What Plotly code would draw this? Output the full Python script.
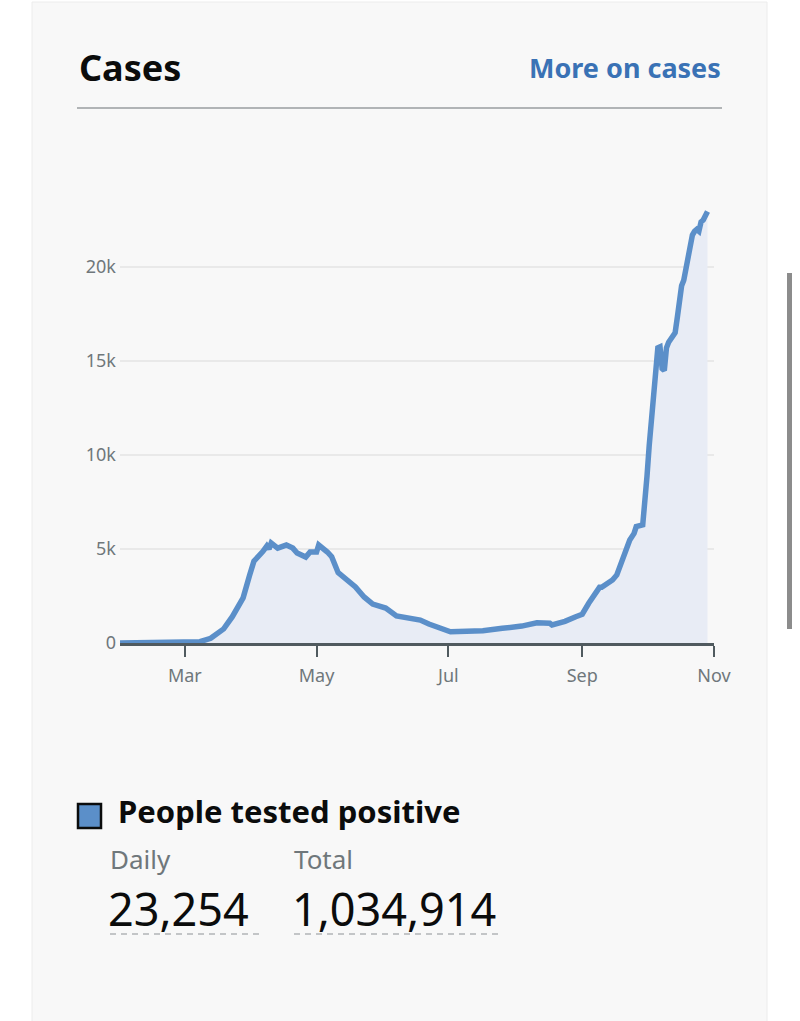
import plotly.graph_objects as go

# ---- data ----
dates = [
    "2020-01-31", "2020-02-10", "2020-02-20", "2020-03-01", "2020-03-08",
    "2020-03-13", "2020-03-19", "2020-03-23", "2020-03-28", "2020-03-31",
    "2020-04-02", "2020-04-06", "2020-04-08", "2020-04-09", "2020-04-10",
    "2020-04-13", "2020-04-17", "2020-04-20", "2020-04-22", "2020-04-26",
    "2020-04-28", "2020-05-01", "2020-05-02", "2020-05-06", "2020-05-08",
    "2020-05-11", "2020-05-15", "2020-05-19", "2020-05-23", "2020-05-27",
    "2020-06-02", "2020-06-07", "2020-06-18", "2020-06-22", "2020-07-02",
    "2020-07-17", "2020-07-26", "2020-08-04", "2020-08-11", "2020-08-17",
    "2020-08-18", "2020-08-24", "2020-08-29", "2020-09-01", "2020-09-04",
    "2020-09-09", "2020-09-10", "2020-09-15", "2020-09-17", "2020-09-19",
    "2020-09-23", "2020-09-25", "2020-09-26", "2020-09-29", "2020-09-30",
    "2020-10-01", "2020-10-02", "2020-10-03", "2020-10-04", "2020-10-05",
    "2020-10-06", "2020-10-07", "2020-10-08", "2020-10-09", "2020-10-10",
    "2020-10-11", "2020-10-12", "2020-10-13", "2020-10-14", "2020-10-15",
    "2020-10-16", "2020-10-17", "2020-10-18", "2020-10-19", "2020-10-20",
    "2020-10-21", "2020-10-22", "2020-10-23", "2020-10-24", "2020-10-25",
    "2020-10-26", "2020-10-27", "2020-10-28", "2020-10-29",
]
cases = [
    0, 5, 10, 30, 70,
    250, 750, 1400, 2400, 3600,
    4350, 4850, 5160, 5000, 5320,
    5050, 5210, 5050, 4790, 4570,
    4840, 4840, 5210, 4840, 4590,
    3740, 3350, 2980, 2450, 2070,
    1860, 1440, 1220, 1010, 600,
    650, 780, 900, 1080, 1050,
    960, 1150, 1400, 1530, 2110,
    2960, 2960, 3350, 3620, 4240,
    5480, 5830, 6190, 6280, 7300,
    8900, 10500, 12000, 13200, 14600,
    15700, 15750, 14600, 14500, 15700,
    16000, 16200, 16400, 16500, 17300,
    18300, 19000, 19300, 20000, 20700,
    21300, 21700, 21900, 22000, 21900,
    22400, 22500, 22700, 22950,
]
tick_dates = ["2020-03-01", "2020-05-01", "2020-07-01", "2020-09-01", "2020-11-01"]
tick_text = ["Mar", "May", "Jul", "Sep", "Nov"]
y_ticks = [0, 5000, 10000, 15000, 20000]
y_text = ["0", "5k", "10k", "15k", "20k"]

title = "Cases"
link = "More on cases"
metric = "People tested positive"
daily_label, daily_value = "Daily", "23,254"
total_label, total_value = "Total", "1,034,914"

# ---- layout geometry (pixels) ----
W, H = 800, 1021
L, R, T, B = 120, 714, 200, 643
PW, PH = R - L, B - T
FONT = "Noto Sans"
LINE = "#5b8fc9"
GREY = "#6f777b"


def px(x):
    return (x - L) / PW


def py(y):
    return (B - y) / PH


fig = go.Figure()
fig.add_trace(go.Scatter(
    x=dates, y=cases, mode="lines",
    line=dict(color=LINE, width=5.5),
    fill="tozeroy", fillcolor="#e8ecf5",
    hoverinfo="skip", showlegend=False,
))

shapes = []
# page card
shapes.append(dict(type="rect", xref="paper", yref="paper",
                   x0=px(32), x1=px(767), y0=py(1030), y1=py(2),
                   fillcolor="#f8f8f8", line=dict(color="#ececec", width=1),
                   layer="below"))
# header rule
shapes.append(dict(type="line", xref="paper", yref="paper",
                   x0=px(77), x1=px(722), y0=py(108), y1=py(108),
                   line=dict(color="#b1b4b6", width=2)))
# legend swatch
shapes.append(dict(type="rect", xref="paper", yref="paper",
                   x0=px(78), x1=px(101), y0=py(828), y1=py(804),
                   fillcolor=LINE, line=dict(color="#0b0c0c", width=2.5)))
# dashed underlines
for x0, x1 in [(110, 262), (294, 500)]:
    shapes.append(dict(type="line", xref="paper", yref="paper",
                       x0=px(x0), x1=px(x1), y0=py(934), y1=py(934),
                       line=dict(color="#b1b4b6", width=1.5, dash="6px,5px")))
# scrollbar of the screenshot
shapes.append(dict(type="rect", xref="paper", yref="paper",
                   x0=px(787), x1=px(792), y0=py(629), y1=py(273),
                   fillcolor="#8c8c8c", line=dict(width=0)))

ann = []
ann.append(dict(text=f"<b>{title}</b>", x=px(77), y=py(67), xanchor="left", yanchor="middle",
                font=dict(family=FONT, size=36, color="#0b0c0c")))
ann.append(dict(text=f"<b>{link}</b>", x=px(723), y=py(67), xanchor="right", yanchor="middle",
                font=dict(family=FONT, size=27, color="#3a72b5")))
ann.append(dict(text=f"<b>{metric}</b>", x=px(116), y=py(811), xanchor="left", yanchor="middle",
                font=dict(family=FONT, size=31, color="#0b0c0c")))
for x0, lab, val in [(108, daily_label, daily_value), (292, total_label, total_value)]:
    ann.append(dict(text=lab, x=px(x0), y=py(859), xanchor="left", yanchor="middle",
                    font=dict(family=FONT, size=26, color=GREY)))
    ann.append(dict(text=val, x=px(x0 - 2), y=py(908), xanchor="left", yanchor="middle",
                    font=dict(family=FONT, size=45, color="#0b0c0c")))
for a in ann:
    a.update(xref="paper", yref="paper", showarrow=False)

fig.update_layout(
    width=W, height=H,
    margin=dict(l=L, r=W - R, t=T, b=H - B),
    paper_bgcolor="white", plot_bgcolor="rgba(0,0,0,0)",
    shapes=shapes, annotations=ann,
    xaxis=dict(range=["2020-01-31", "2020-11-01"], tickvals=tick_dates, ticktext=tick_text,
               showgrid=False, zeroline=False, showline=True, linecolor="#505a5f", linewidth=2.5,
               ticks="outside", ticklen=11, tickwidth=2, tickcolor="#505a5f",
               tickfont=dict(family=FONT, size=18, color=GREY), ticklabelstandoff=4,
               fixedrange=True),
    yaxis=dict(range=[0, PH / 94 * 5000], tickvals=y_ticks, ticktext=y_text,
               showgrid=True, gridcolor="#e9e9e9", gridwidth=1.5, zeroline=False,
               showline=False, ticks="", tickfont=dict(family=FONT, size=18, color=GREY),
               ticklabelstandoff=3, fixedrange=True),
    showlegend=False,
)

fig.write_html("out.html")
